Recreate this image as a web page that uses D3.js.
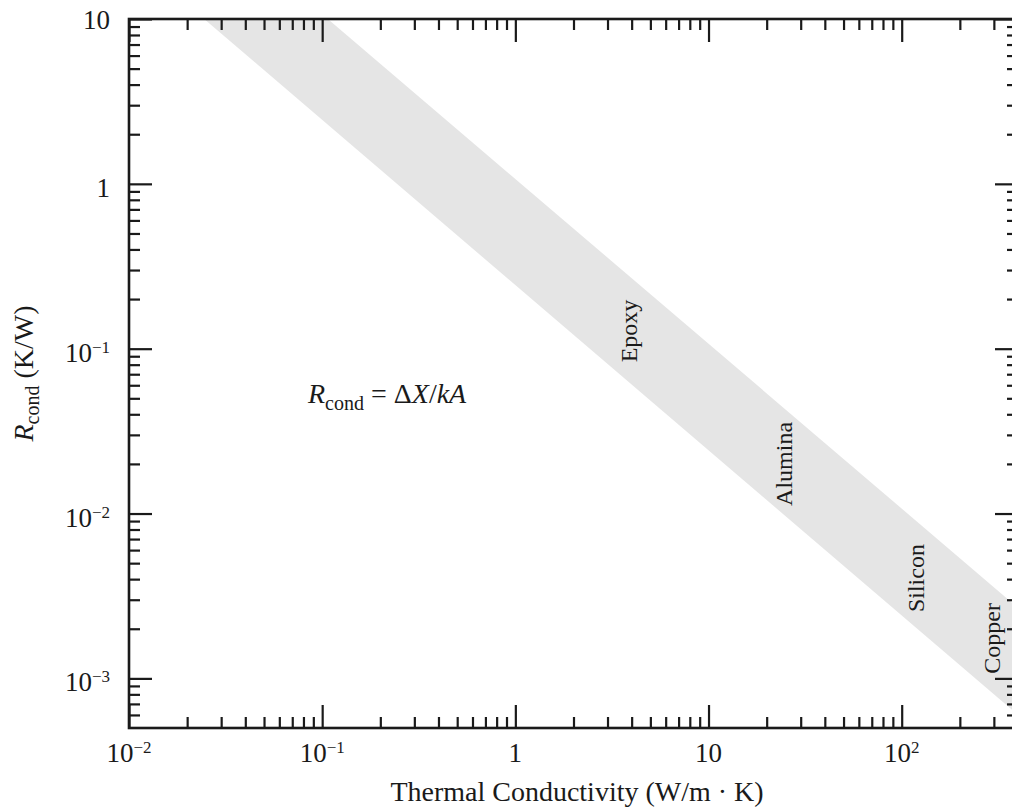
<!DOCTYPE html>
<html><head><meta charset="utf-8">
<script src="https://cdn.jsdelivr.net/npm/d3@7"></script>
<style>
body{margin:0;background:#fff}
svg{display:block}
text{font-family:"Liberation Serif","Times New Roman",serif;fill:#1a1a1a}
</style>
</head><body>
<svg id="c" width="1012" height="812"></svg>
<script>
// ---- data ----
const xMajor = [0.01, 0.1, 1, 10, 100];
const xMajorBase = ["10", "10", "1", "10", "10"];
const xMajorExp = ["\u22122", "\u22121", "", "", "2"];
const yMajor = [0.001, 0.01, 0.1, 1, 10];
const yMajorBase = ["10", "10", "10", "1", "10"];
const yMajorExp = ["\u22123", "\u22122", "\u22121", "", ""];
const minorMultipliers = [2, 3, 4, 5, 6, 7, 8, 9];
const bandK = [0.0245, 0.107, 400, 400];
const bandR = [10, 10, 0.00268, 0.0006];
const materials = ["Epoxy", "Alumina", "Silicon", "Copper"];
const materialK = [4.26, 27, 131, 321];
const materialR = [0.128, 0.020, 0.00406, 0.00175];
const xDomain = [0.01, 400];
const yDomain = [5e-4, 10];

// ---- layout ----
const L = 129, R = 1018, T = 19, B = 728;
const svg = d3.select("#c");
const x = d3.scaleLog().domain(xDomain).range([L, R]);
const y = d3.scaleLog().domain(yDomain).range([B, T]);

const xMinor = [], yMinor = [];
[0.01, 0.1, 1, 10, 100].forEach(d => minorMultipliers.forEach(m => { const v = d * m; if (v < xDomain[1]) xMinor.push(v); }));
[1e-4, 1e-3, 1e-2, 0.1, 1].forEach(d => minorMultipliers.forEach(m => { const v = d * m; if (v > yDomain[0] && v < yDomain[1]) yMinor.push(v); }));

svg.append("clipPath").attr("id", "plot").append("rect")
  .attr("x", L).attr("y", T).attr("width", R - L).attr("height", B - T);

// band
svg.append("path")
  .attr("clip-path", "url(#plot)")
  .attr("d", d3.line()(bandK.map((k, i) => [x(k), y(bandR[i])])) + "Z")
  .attr("fill", "#e5e5e5");

// material labels
materials.forEach((m, i) => {
  svg.append("text")
    .attr("transform", `translate(${x(materialK[i])},${y(materialR[i])}) rotate(-90)`)
    .attr("text-anchor", "middle")
    .attr("font-size", 24)
    .text(m);
});

// axes (ticks inward)
function styleAxis(g, w) {
  g.select(".domain").remove();
  g.selectAll(".tick line").attr("stroke", "#1a1a1a").attr("stroke-width", w);
  g.selectAll(".tick text").remove();
}
const axes = [
  [d3.axisBottom(x), `translate(0,${B})`, xMajor, xMinor],
  [d3.axisTop(x), `translate(0,${T})`, xMajor, xMinor],
  [d3.axisLeft(y), `translate(${L},0)`, yMajor, yMinor],
  [d3.axisRight(y), `translate(${R},0)`, yMajor, yMinor]
];
axes.forEach(([ax, tr, maj, min]) => {
  svg.append("g").attr("transform", tr)
    .call(ax.tickValues(maj).tickSize(-23).tickFormat(""))
    .call(g => styleAxis(g, 2.2));
});
axes.forEach(([axFn, tr, maj, min], i) => {
  const ax = [d3.axisBottom, d3.axisTop, d3.axisLeft, d3.axisRight][i];
  const sc = i < 2 ? x : y;
  svg.append("g").attr("transform", tr)
    .call(ax(sc).tickValues(min).tickSize(-11).tickFormat(""))
    .call(g => styleAxis(g, 2.2));
});

// frame
svg.append("rect").attr("x", L).attr("y", T).attr("width", R - L).attr("height", B - T)
  .attr("fill", "none").attr("stroke", "#1a1a1a").attr("stroke-width", 2.6);

// x tick labels
xMajor.forEach((v, i) => {
  const t = svg.append("text").attr("x", x(v)).attr("y", 762)
    .attr("text-anchor", "middle").attr("font-size", 27);
  t.append("tspan").text(xMajorBase[i]);
  if (xMajorExp[i]) t.append("tspan").attr("font-size", 17).attr("dy", -9).text(xMajorExp[i]);
});
// y tick labels
yMajor.forEach((v, i) => {
  const t = svg.append("text").attr("x", 110).attr("y", y(v) + (i === 4 ? 10 : 13))
    .attr("text-anchor", "end").attr("font-size", 27);
  t.append("tspan").text(yMajorBase[i]);
  if (yMajorExp[i]) t.append("tspan").attr("font-size", 17).attr("dy", -9).text(yMajorExp[i]);
});

// x axis title
svg.append("text").attr("x", 577).attr("y", 801).attr("text-anchor", "middle")
  .attr("font-size", 28).text("Thermal Conductivity (W/m \u00B7 K)");

// y axis title
const yt = svg.append("text")
  .attr("transform", `translate(33,${(T + B) / 2}) rotate(-90)`)
  .attr("text-anchor", "middle").attr("font-size", 28);
yt.append("tspan").attr("font-style", "italic").text("R");
yt.append("tspan").attr("font-size", 20).attr("dy", 6).text("cond");
yt.append("tspan").attr("dy", -6).text(" (K/W)");

// formula
const f = svg.append("text").attr("x", 308).attr("y", 403).attr("font-size", 28);
f.append("tspan").attr("font-style", "italic").text("R");
f.append("tspan").attr("font-size", 20).attr("dy", 7).text("cond");
f.append("tspan").attr("dy", -7).text(" = \u0394");
f.append("tspan").attr("font-style", "italic").text("X");
f.append("tspan").text("/");
f.append("tspan").attr("font-style", "italic").text("kA");
</script>
</body></html>
